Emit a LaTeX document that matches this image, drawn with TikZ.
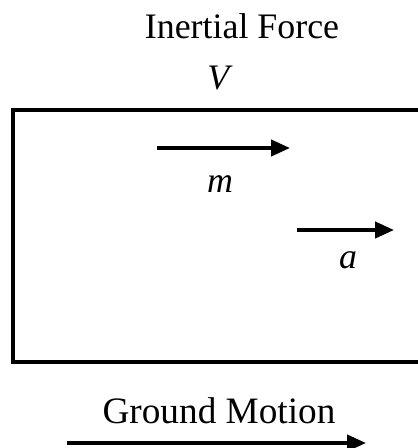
\documentclass[tikz,border=0pt]{standalone}
\usepackage{fontspec}
\setmainfont{Liberation Serif}
\usepackage{tikz}
\usetikzlibrary{arrows.meta}
\tikzstyle{label} = [inner sep=0pt, anchor=base, font=\fontsize{25.5}{30}\selectfont]
\tikzstyle{arrow} = [line width=2.6pt, -{Triangle[length=0.47cm, width=0.4cm]}]
\tikzstyle{wall} = [line width=2.6pt]

\begin{document}
\begin{tikzpicture}[x=0.025cm, y=-0.025cm]
    \useasboundingbox (0,0) rectangle (418,448);
    % Titles
    \node (force) [label] at (242,38) {Inertial Force};
    \node (vel) [label] at (220,89) {\textit{V}};

    % Mass box, open on the right
    \draw [wall] (420,110) -- (13,110) -- (13,362) -- (420,362);

    % Mass and acceleration
    \coordinate (m1) at (157,148);
    \coordinate (m2) at (290,148);
    \draw [arrow] (m1) -- (m2);
    \node (mass) [label] at (220,192) {\textit{m}};
    \coordinate (a1) at (297,230);
    \coordinate (a2) at (394,230);
    \draw [arrow] (a1) -- (a2);
    \node (acc) [label] at (348,268) {\textit{a}};

    % Ground
    \node (ground) [label, font=\fontsize{26.5}{30}\selectfont] at (219,423) {Ground Motion};
    \coordinate (g1) at (67,443);
    \coordinate (g2) at (366,443);
    \draw [arrow] (g1) -- (g2);
\end{tikzpicture}
\end{document}
